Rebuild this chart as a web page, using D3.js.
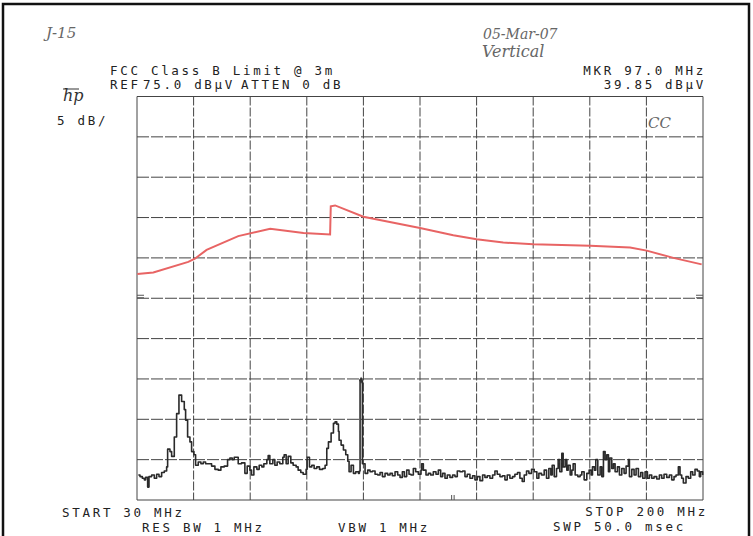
<!DOCTYPE html>
<html>
<head>
<meta charset="utf-8">
<script src="https://cdn.jsdelivr.net/npm/d3@7"></script>
<style>
  body { margin: 0; background: #fff; }
  svg { display: block; }
  .plot-text { font-family: "DejaVu Sans Mono", "Liberation Mono", monospace; font-size: 12.5px; fill: #222; letter-spacing: 2.7px; }
  .hand { font-family: "DejaVu Serif", serif; font-style: italic; fill: #666; }
</style>
</head>
<body>
<svg width="753" height="536"></svg>
<script>
// sweep settings (MHz, dBuV)
const startMHz = 30;
const stopMHz = 200;
const refLevel = 75;
const dbPerDiv = 5;
const divisions = 10;

// FCC class B limit line (red)
const limitLine = [
    [30.1, 53.0], [34.9, 53.2], [45.4, 54.5], [47.4, 54.9], [50.9, 56.0],
    [60.4, 57.7], [70.0, 58.6], [80.0, 58.1], [88.0, 57.9], [88.2, 61.4],
    [89.5, 61.5], [98.0, 60.1], [115.0, 58.7], [125.0, 57.8], [132.0, 57.3],
    [140.0, 56.9], [149.0, 56.7], [166.1, 56.5], [178.1, 56.3], [183.1, 55.9],
    [191.1, 55.0], [199.6, 54.2]
];

const trace = [
    [30.4, 28.1], [30.9, 27.9], [31.6, 27.7], [32.2, 27.5], [32.6, 27.8], [33.2, 26.6],
    [33.6, 27.9], [34.4, 28.1], [35.2, 27.7], [35.9, 28.2], [36.6, 27.9], [37.4, 28.4],
    [38.2, 28.6], [38.9, 29.1], [39.2, 31.3], [39.9, 31.0], [40.4, 30.4], [41.2, 32.8],
    [41.9, 35.7], [42.6, 38.0], [43.4, 37.2], [44.2, 36.2], [44.6, 34.9], [45.2, 32.8],
    [45.9, 32.2], [46.4, 31.0], [47.1, 30.6], [47.6, 29.3], [48.4, 29.7], [49.2, 29.5],
    [49.9, 29.7], [50.6, 29.5], [51.4, 29.5], [52.4, 29.2], [53.4, 28.8], [54.4, 28.7],
    [55.2, 29.1], [56.2, 29.2], [57.2, 30.0], [57.9, 30.2], [58.6, 30.0], [59.2, 30.3],
    [59.7, 30.3], [60.4, 29.5], [61.4, 29.6], [62.4, 28.3], [63.1, 29.2], [63.9, 28.7],
    [64.4, 28.1], [65.1, 29.1], [66.0, 28.8], [66.7, 29.3], [67.5, 29.1], [68.1, 29.5],
    [69.0, 30.0], [69.4, 30.5], [69.9, 29.5], [70.8, 30.0], [71.4, 29.3], [72.1, 29.7],
    [72.9, 29.5], [73.8, 30.3], [74.2, 30.6], [74.8, 29.5], [75.4, 30.4], [76.2, 29.6],
    [76.9, 29.3], [77.8, 29.1], [78.4, 28.7], [79.2, 28.4], [79.9, 28.2], [80.8, 28.8],
    [81.1, 30.3], [81.8, 29.1], [82.5, 29.3], [83.2, 28.9], [84.0, 29.1], [84.8, 28.8],
    [85.8, 28.9], [86.5, 29.3], [87.0, 31.4], [87.5, 32.2], [88.3, 33.3], [89.0, 34.5],
    [89.5, 34.7], [90.0, 34.4], [90.5, 33.5], [90.7, 32.4], [91.3, 31.8], [92.0, 31.2],
    [92.7, 30.6], [93.3, 29.8], [93.7, 28.5], [94.3, 29.3], [95.0, 28.3], [95.7, 28.5],
    [96.5, 28.3], [96.8, 28.6], [97.0, 39.85], [97.4, 39.7], [97.7, 29.5], [98.5, 28.3],
    [99.3, 28.7], [100.0, 28.5], [100.7, 28.6], [101.5, 28.2], [102.3, 28.1], [103.0, 28.4],
    [103.7, 27.9], [104.5, 28.3], [105.3, 28.1], [106.0, 28.3], [106.7, 28.0], [107.5, 28.5],
    [108.3, 28.1], [109.0, 27.8], [109.7, 28.5], [110.3, 27.9], [111.0, 28.7], [111.7, 28.2],
    [112.3, 28.1], [113.0, 28.9], [113.7, 28.5], [114.5, 28.2], [115.3, 28.7], [115.5, 29.5],
    [116.0, 28.7], [116.8, 28.1], [117.5, 28.3], [118.2, 28.1], [119.0, 28.5], [119.8, 28.2],
    [120.5, 28.7], [121.2, 27.9], [121.8, 28.3], [122.5, 27.7], [123.2, 28.1], [124.0, 27.8],
    [124.8, 28.1], [125.5, 27.9], [126.2, 28.6], [127.0, 28.5], [127.8, 28.6], [128.5, 27.9],
    [129.2, 28.2], [130.0, 27.7], [130.8, 28.0], [131.5, 27.5], [132.2, 27.9], [133.0, 27.4],
    [133.8, 28.1], [134.5, 27.8], [135.2, 28.0], [136.0, 27.7], [136.8, 28.1], [137.5, 28.6],
    [138.2, 28.2], [139.0, 27.9], [139.8, 28.0], [140.5, 27.5], [141.2, 28.1], [142.0, 27.7],
    [142.8, 27.9], [143.5, 28.2], [144.3, 28.4], [145.0, 27.7], [145.7, 27.3], [146.3, 28.1],
    [147.0, 28.6], [147.7, 28.3], [148.5, 28.8], [149.3, 28.5], [150.1, 27.7], [150.7, 28.3],
    [151.5, 28.1], [152.3, 28.7], [153.0, 27.7], [153.7, 28.9], [154.3, 28.1], [154.7, 29.3],
    [155.3, 27.9], [156.0, 28.9], [156.5, 30.0], [157.0, 28.5], [157.6, 30.8], [158.0, 29.1],
    [158.6, 30.0], [159.1, 28.7], [159.5, 29.3], [160.1, 28.1], [160.6, 28.7], [161.0, 29.5],
    [161.6, 28.1], [162.4, 27.9], [163.1, 28.1], [163.6, 28.5], [164.3, 27.5], [165.1, 28.3],
    [165.8, 28.7], [166.4, 28.1], [166.8, 29.1], [167.4, 28.7], [167.8, 30.0], [168.4, 28.1],
    [169.1, 29.1], [169.6, 27.9], [170.1, 31.0], [170.6, 30.0], [171.1, 30.6], [171.6, 28.5],
    [172.0, 30.2], [172.6, 28.9], [173.1, 29.5], [173.6, 28.5], [174.3, 29.1], [174.9, 28.1],
    [175.6, 28.9], [176.3, 28.3], [176.9, 29.2], [177.6, 30.0], [177.9, 27.9], [178.6, 28.8],
    [179.3, 28.1], [179.9, 28.9], [180.6, 27.9], [181.3, 28.4], [181.9, 27.7], [182.6, 28.5],
    [183.3, 27.7], [183.9, 28.1], [184.6, 27.7], [185.3, 27.9], [186.1, 27.6], [186.9, 28.1],
    [187.6, 27.7], [188.3, 28.2], [189.1, 27.8], [189.9, 28.1], [190.6, 27.5], [191.3, 27.9],
    [191.9, 28.1], [192.6, 29.1], [193.1, 28.1], [193.6, 27.7], [194.1, 27.1], [194.9, 27.9],
    [195.6, 27.7], [196.3, 28.5], [196.9, 28.1], [197.6, 28.8], [198.3, 28.6], [198.9, 27.9],
    [199.3, 28.5], [199.9, 28.1]
];

// marker readout
const markerMHz = 97.0;
const markerLevel = 39.85;

// annotation text
const headerLeft = ["FCC Class B Limit @ 3m"];
const refLabels = ["REF", "75.0 dB\u00b5V", "ATTEN 0 dB"];
const headerRight = ["MKR 97.0 MHz", "39.85 dB\u00b5V"];
const footerLeft = ["START 30 MHz", "RES BW 1 MHz", "VBW 1 MHz"];
const footerRight = ["STOP 200 MHz", "SWP 50.0 msec"];
const handNotes = ["J-15", "05-Mar-07", "Vertical", "CC"];

window.onload = init;

function init() {
    const svg = d3.select("svg");

    // page border from the scan
    svg.append("rect")
        .attr("x", 3).attr("y", 4)
        .attr("width", 746).attr("height", 540)
        .attr("fill", "#fff")
        .attr("stroke", "#111")
        .attr("stroke-width", 2.5);

    // plot area
    const left = 137, right = 703, top = 96.5, bottom = 500;

    const x = d3.scaleLinear().domain([startMHz, stopMHz]).range([left, right]);
    const y = d3.scaleLinear()
        .domain([refLevel - dbPerDiv * divisions, refLevel])
        .range([bottom, top]);

    // graticule: 10 x 10 divisions
    const xTicks = d3.range(divisions + 1).map(i => startMHz + i * (stopMHz - startMHz) / divisions);
    const yTicks = d3.range(divisions + 1).map(i => refLevel - i * dbPerDiv);

    const grid = svg.append("g").attr("class", "grid");

    grid.selectAll("line.v")
        .data(xTicks)
        .join("line")
        .attr("class", "v")
        .attr("x1", d => x(d)).attr("x2", d => x(d))
        .attr("y1", top).attr("y2", bottom)
        .attr("stroke", "#444")
        .attr("stroke-width", 1)
        .attr("stroke-dasharray", (d, i) => (i === 0 || i === divisions) ? null : "9,2");

    grid.selectAll("line.h")
        .data(yTicks)
        .join("line")
        .attr("class", "h")
        .attr("x1", left).attr("x2", right)
        .attr("y1", d => y(d)).attr("y2", d => y(d))
        .attr("stroke", "#444")
        .attr("stroke-width", 1)
        .attr("stroke-dasharray", (d, i) => (i === 0 || i === divisions) ? null : "12,2");

    // little reference marks on the frame edges
    [left, right - 7].forEach(xx => {
        [y(50) - 3, y(50) - 0.5].forEach(yy => {
            grid.append("line")
                .attr("x1", xx).attr("x2", xx + 7)
                .attr("y1", yy).attr("y2", yy)
                .attr("stroke", "#555").attr("stroke-width", 1);
        });
    });
    [0, 2.5].forEach(dx => {
        grid.append("line")
            .attr("x1", x(124.5) + dx).attr("x2", x(124.5) + dx)
            .attr("y1", bottom - 5).attr("y2", bottom)
            .attr("stroke", "#555").attr("stroke-width", 1);
    });

    const line = d3.line()
        .x(d => x(d[0]))
        .y(d => y(d[1]));

    // limit line
    svg.append("path")
        .datum(limitLine)
        .attr("d", line)
        .attr("fill", "none")
        .attr("stroke", "#e86464")
        .attr("stroke-width", 2);

    // measured trace
    svg.append("path")
        .datum(trace)
        .attr("d", d3.line().x(d => x(d[0])).y(d => y(d[1])).curve(d3.curveStepAfter))
        .attr("fill", "none")
        .attr("stroke", "#2a2a2a")
        .attr("stroke-width", 1.6)
        .attr("stroke-linejoin", "round");

    // marker symbol
    svg.append("path")
        .attr("d", d3.symbol().type(d3.symbolDiamond).size(14))
        .attr("transform", `translate(${x(markerMHz) + 1},${y(markerLevel)})`)
        .attr("fill", "#333");

    // header text
    const txt = (s, xx, yy, anchor) => svg.append("text")
        .attr("class", "plot-text")
        .attr("x", xx).attr("y", yy)
        .attr("text-anchor", anchor || "start")
        .text(s);

    txt(headerLeft[0], 110, 75);
    txt(refLabels[0], 110, 88.5);
    txt(refLabels[1], 143, 88.5);
    txt(refLabels[2], 241, 88.5);
    txt(headerRight[0], 706, 75, "end");
    txt(headerRight[1], 706, 88.5, "end");
    txt("5 dB/", 57, 125);

    txt(footerLeft[0], 62, 517);
    txt(footerLeft[1], 142, 532);
    txt(footerLeft[2], 338, 532);
    txt(footerRight[0], 708, 516, "end");
    txt(footerRight[1], 553, 531);

    // hp logo
    svg.append("text")
        .attr("x", 63).attr("y", 101)
        .style("font-family", "DejaVu Serif, serif")
        .style("font-style", "italic")
        .style("font-size", "16px")
        .attr("fill", "#333")
        .text("hp");
    svg.append("line")
        .attr("x1", 63).attr("x2", 79)
        .attr("y1", 89).attr("y2", 89)
        .attr("stroke", "#333").attr("stroke-width", 1);

    // handwritten notes
    const hand = (s, xx, yy, size) => svg.append("text")
        .attr("class", "hand")
        .attr("x", xx).attr("y", yy)
        .style("font-size", size + "px")
        .text(s);

    hand(handNotes[0], 46, 38, 15);
    hand(handNotes[1], 483, 39, 14);
    hand(handNotes[2], 482, 57, 16);
    hand(handNotes[3], 648, 128, 15);
}
</script>
</body>
</html>
